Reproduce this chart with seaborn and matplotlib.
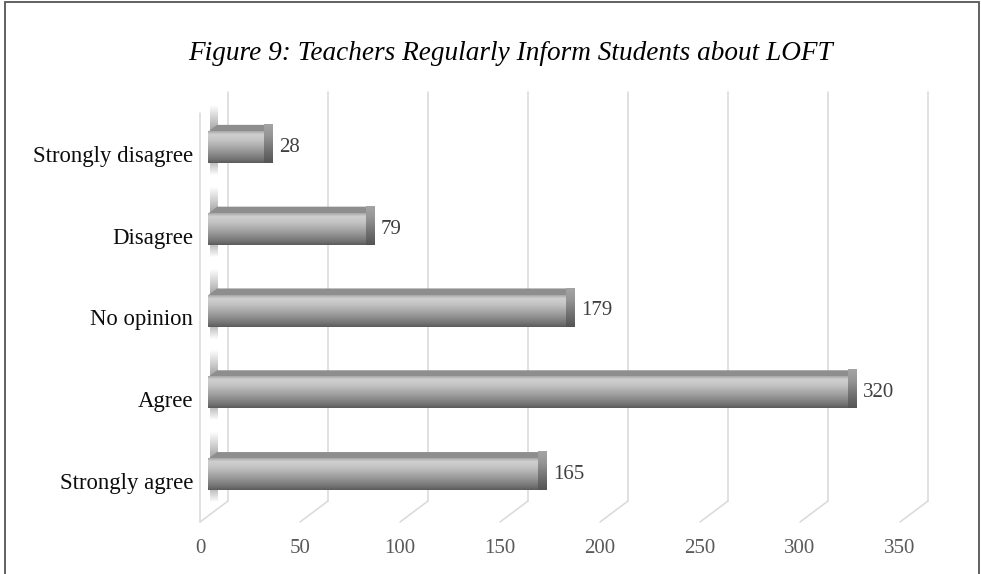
import numpy as np
import pandas as pd
import matplotlib
matplotlib.use("Agg")
import matplotlib.pyplot as plt
import seaborn as sns
from matplotlib.transforms import ScaledTranslation, IdentityTransform
from matplotlib.patches import Polygon, Rectangle
from matplotlib.lines import Line2D
from matplotlib.colors import LinearSegmentedColormap

# ---- data ----
categories = ["Strongly disagree", "Disagree", "No opinion", "Agree", "Strongly agree"]
counts = [28, 79, 179, 320, 165]
x_ticks = [0, 50, 100, 150, 200, 250, 300, 350]
title = "Figure 9: Teachers Regularly Inform Students about LOFT"

sns.set_theme(style="white")
plt.rcParams["font.family"] = ["Liberation Serif", "DejaVu Serif"]

DPI = 100
W, H = 981, 574
fig = plt.figure(figsize=(W / DPI, H / DPI), dpi=DPI)
fig.patch.set_facecolor("white")
ax = fig.add_axes([200 / W, 52 / H, 700 / W, 409 / H])
ax.set_facecolor("none")

df = pd.DataFrame({"category": categories, "count": counts})
sns.barplot(data=df, x="count", y="category", orient="h", width=0.38,
            color="#999999", ax=ax, zorder=4)

ax.set_xlim(0, 350)
ax.set_ylim(4.5, -0.5)
ax.set_xticks(x_ticks)
ax.set_xlabel("")
ax.set_ylabel("")
for s in ax.spines.values():
    s.set_visible(False)
ax.tick_params(axis="x", length=0, pad=12, labelsize=15, labelcolor="#595959")
ax.tick_params(axis="y", length=0, pad=5, labelsize=16.4, labelcolor="#0d0d0d")

WALL = (28, 21)     # depth vector of the back wall (px)
FRONT = (8, 6.5)    # bar front face offset (px)
DEPTH = (9, 7)      # bar thickness in depth (px)


def off(dx, dy):
    return ax.transData + ScaledTranslation(dx / DPI, dy / DPI, fig.dpi_scale_trans)


grid_c = "#d9d9d9"
ylo, yhi = ax.get_ylim()
# back wall gridlines + floor diagonals
for v in ax.get_xticks():
    ax.plot([v, v], [ylo, yhi], transform=off(*WALL), color=grid_c, lw=1.1,
            zorder=0, clip_on=False)
    p0 = ax.transData.transform((v, ylo))
    ax.add_line(Line2D([p0[0], p0[0] + WALL[0]], [p0[1], p0[1] + WALL[1]],
                       transform=IdentityTransform(), color=grid_c, lw=1.1,
                       zorder=0, clip_on=False))
# left wall front edge
ax.plot([0, 0], [ylo, yhi], color=grid_c, lw=1.1, zorder=0, clip_on=False)

front_cmap = LinearSegmentedColormap.from_list(
    "front", [(0.0, "#a8a8a8"), (0.1, "#d0d0d0"), (0.3, "#c2c2c2"),
              (0.6, "#9c9c9c"), (0.88, "#747474"), (1.0, "#5c5c5c")])
end_cmap = LinearSegmentedColormap.from_list(
    "end", [(0.0, "#a4a4a4"), (0.3, "#959595"), (0.7, "#6e6e6e"), (1.0, "#555555")])
grad = np.linspace(0, 1, 64)[:, None]

for p in list(ax.patches):
    x0, y0, w, h = p.get_x(), p.get_y(), p.get_width(), p.get_height()
    tf = off(*FRONT)
    p.set_transform(tf)
    p.set_facecolor("none")
    p.set_edgecolor("none")
    # display corners of front face
    tl = tf.transform((x0, y0))
    br = tf.transform((x0 + w, y0 + h))
    left, right = tl[0], br[0]
    top, bot = tl[1], br[1]
    dx, dy = DEPTH
    # shadow strip on the left wall
    prof = np.concatenate([np.linspace(0, 0.75, 20), np.full(10, 0.75),
                           np.linspace(0.75, 0, 14)])
    rgba = np.zeros((len(prof), 1, 4))
    rgba[..., :3] = 0.42
    rgba[:, 0, 3] = prof
    ax.imshow(rgba, extent=(left + 2, left + 10, bot - 13, top + dy + 20),
              transform=IdentityTransform(), aspect="auto", origin="upper",
              interpolation="bilinear", zorder=1, clip_on=False)
    # top face
    ax.add_patch(Polygon([(left, top), (right, top), (right + dx, top + dy),
                          (left + dx, top + dy)], closed=True,
                         transform=IdentityTransform(), facecolor="#8e8e8e",
                         edgecolor="none", zorder=3, clip_on=False))
    # end face
    endpoly = Polygon([(right, top), (right, bot), (right + dx, bot + dy),
                       (right + dx, top + dy)], closed=True,
                      transform=IdentityTransform(), facecolor="none",
                      edgecolor="none", zorder=3, clip_on=False)
    ax.add_patch(endpoly)
    im = ax.imshow(grad, cmap=end_cmap, extent=(right, right + dx, bot, top + dy),
                   transform=IdentityTransform(), aspect="auto", origin="upper",
                   interpolation="bilinear", zorder=3, clip_on=False)
    im.set_clip_path(endpoly)
    # front face gradient
    ax.imshow(grad, cmap=front_cmap, extent=(x0, x0 + w, y0 + h, y0),
              transform=tf, aspect="auto", origin="upper",
              interpolation="bilinear", zorder=4, clip_on=False)

# data labels
for i, v in enumerate(counts):
    ax.text(v, i, str(v), transform=off(FRONT[0] + DEPTH[0] + 6, FRONT[1]),
            ha="left", va="center", fontsize=15, color="#404040", zorder=5)

ax.set_xlim(0, 350)
ax.set_ylim(4.5, -0.5)

fig.text(510 / W, 1 - 53 / H, title, ha="center", va="center", fontsize=19.6,
         style="italic", color="#000000")

# outer border
fig.add_artist(Rectangle((5 / W, -0.1), (979 - 5) / W, 1.1 - 2.5 / H,
                         transform=fig.transFigure, facecolor="none",
                         edgecolor="#555555", lw=1.3, clip_on=False))

fig.savefig("out.png", dpi=DPI)
